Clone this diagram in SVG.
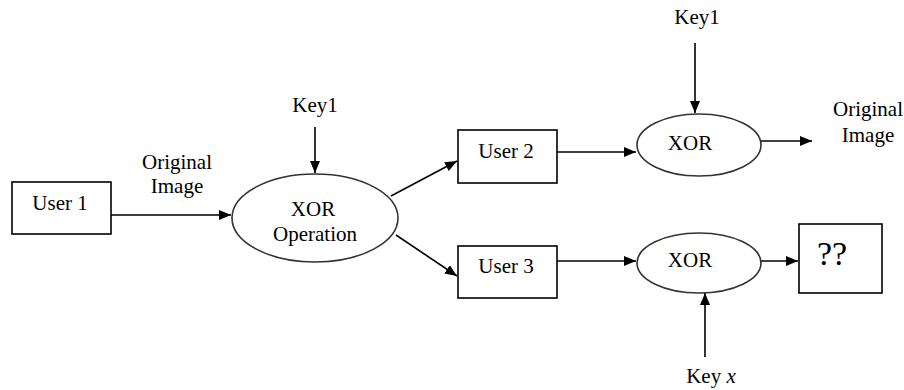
<svg xmlns="http://www.w3.org/2000/svg" width="904" height="390" viewBox="0 0 904 390">
<style>
.box{fill:#fff;stroke:#000;stroke-width:1.6}
.ell{fill:#fff;stroke:#333;stroke-width:1.6}
.t{font-family:'Times New Roman','Liberation Serif','DejaVu Serif',serif;font-size:21px;fill:#000;text-anchor:middle}
.c{fill:none;stroke:#000;stroke-width:1.6;marker-end:url(#ah)}
</style>
<defs>
<marker id="ah" viewBox="0 0 12 10" refX="12" refY="5" markerWidth="12" markerHeight="10" markerUnits="userSpaceOnUse" orient="auto">
<path d="M0,0 L12,5 L0,10 Z" fill="#000"/>
</marker>
</defs>
<rect width="904" height="390" fill="#fff"/>
<g id="connectors">
<line class="c" x1="111" y1="215" x2="231" y2="215"/>
<line class="c" x1="315" y1="127" x2="315" y2="173"/>
<line class="c" x1="391" y1="196" x2="457" y2="161"/>
<line class="c" x1="396" y1="235" x2="457" y2="276"/>
<line class="c" x1="557" y1="152" x2="636" y2="152"/>
<line class="c" x1="695" y1="43" x2="695" y2="113"/>
<line class="c" x1="761" y1="141" x2="812" y2="141"/>
<line class="c" x1="557" y1="261" x2="636" y2="261"/>
<line class="c" x1="761" y1="261" x2="798" y2="261"/>
<line class="c" x1="705" y1="357" x2="705" y2="293"/>
</g>
<g id="user1">
<rect class="box" x="12" y="182" width="99" height="52"/>
<text class="t" x="60" y="210">User 1</text>
</g>
<g id="label-original1">
<text class="t" x="177" y="169">Original</text>
<text class="t" x="177" y="193">Image</text>
</g>
<g id="key1a">
<text class="t" x="315" y="112">Key1</text>
</g>
<g id="xor-op">
<ellipse class="ell" cx="315" cy="218" rx="83" ry="44"/>
<text class="t" x="313" y="216">XOR</text>
<text class="t" x="315" y="241">Operation</text>
</g>
<g id="user2">
<rect class="box" x="458" y="130" width="99" height="53"/>
<text class="t" x="506" y="158">User 2</text>
</g>
<g id="user3">
<rect class="box" x="458" y="246" width="99" height="52"/>
<text class="t" x="506" y="273">User 3</text>
</g>
<g id="key1b">
<text class="t" x="697" y="24">Key1</text>
</g>
<g id="xor2">
<ellipse class="ell" cx="699" cy="145" rx="62" ry="31"/>
<text class="t" x="690" y="150">XOR</text>
</g>
<g id="label-original2">
<text class="t" x="868" y="116">Original</text>
<text class="t" x="868" y="142">Image</text>
</g>
<g id="xor3">
<ellipse class="ell" cx="699" cy="263" rx="62" ry="30"/>
<text class="t" x="690" y="267">XOR</text>
</g>
<g id="unknown">
<rect class="box" x="799" y="224" width="83" height="69"/>
<text class="t" x="832" y="265" style="font-size:34px">??</text>
</g>
<g id="keyx">
<text class="t" x="711" y="383">Key <tspan font-style="italic">x</tspan></text>
</g>
</svg>
